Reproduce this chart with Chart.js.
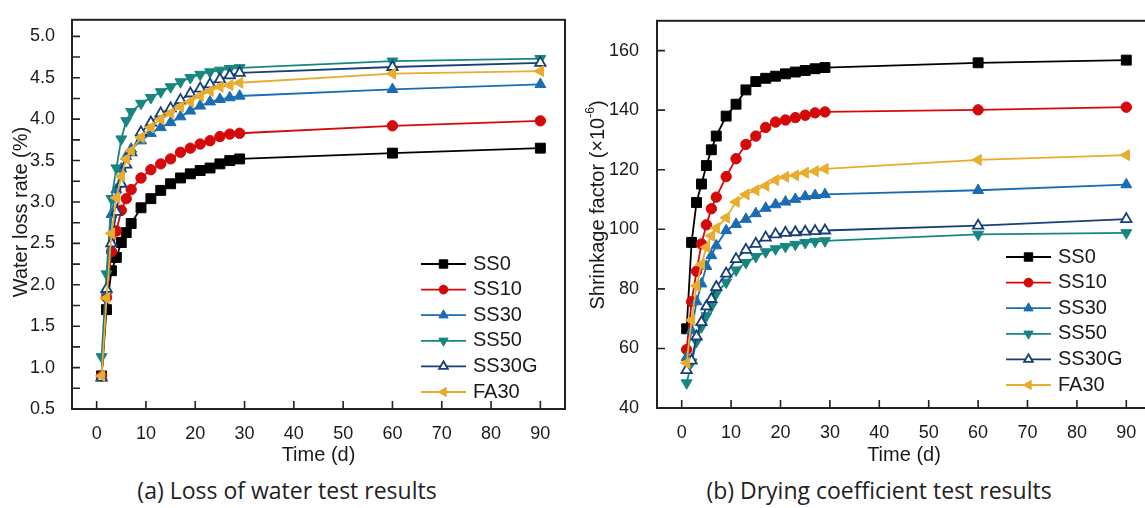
<!DOCTYPE html>
<html>
<head>
<meta charset="utf-8">
<title>Water loss and drying shrinkage</title>
<script src="https://cdn.jsdelivr.net/npm/chart.js@4.4.1/dist/chart.umd.min.js"></script>
<style>
  html, body { margin: 0; padding: 0; background: #fff; overflow: hidden; }
  #wrap { position: relative; width: 1145px; height: 508px; overflow: hidden; }
  .panel { position: absolute; top: 0; }
  #leftBox { left: 0; width: 580px; height: 470px; }
  #rightBox { left: 580px; width: 590px; height: 470px; }
  .cap { position: absolute; top: 475px; font-family: "Open Sans", "Liberation Sans", sans-serif;
         font-size: 23px; line-height: 30px; color: #222; white-space: nowrap; transform: translateX(-50%); }
</style>
</head>
<body>
<div id="wrap">
  <div class="panel" id="leftBox"><canvas id="lossChart" width="580" height="470"></canvas></div>
  <div class="panel" id="rightBox"><canvas id="shrinkChart" width="590" height="470"></canvas></div>
  <div class="cap" style="left:287px">(a) Loss of water test results</div>
  <div class="cap" style="left:879px">(b) Drying coefficient test results</div>
</div>
<script>
// Curing age of each measurement (days)
const days = [1, 2, 3, 4, 5, 6, 7, 9, 11, 13, 15, 17, 19, 21, 23, 25, 27, 29, 60, 90];
const seriesNames = ['SS0', 'SS10', 'SS30', 'SS50', 'SS30G', 'FA30'];

// Water loss rate (%)
const lossSS0   = [0.90, 1.70, 2.17, 2.33, 2.51, 2.63, 2.74, 2.93, 3.04, 3.14, 3.22, 3.29, 3.34, 3.38, 3.41, 3.46, 3.50, 3.52, 3.59, 3.65];
const lossSS10  = [0.90, 1.85, 2.40, 2.65, 2.90, 3.04, 3.15, 3.29, 3.39, 3.46, 3.52, 3.60, 3.65, 3.70, 3.74, 3.79, 3.82, 3.83, 3.92, 3.98];
const lossSS30  = [0.90, 1.93, 2.85, 3.15, 3.40, 3.55, 3.64, 3.74, 3.83, 3.90, 3.96, 4.03, 4.10, 4.16, 4.21, 4.24, 4.26, 4.28, 4.36, 4.42];
const lossSS50  = [1.13, 2.13, 3.04, 3.41, 3.76, 3.98, 4.09, 4.19, 4.26, 4.33, 4.39, 4.45, 4.50, 4.54, 4.57, 4.59, 4.61, 4.62, 4.70, 4.73];
const lossSS30G = [0.88, 1.95, 2.50, 2.88, 3.22, 3.45, 3.60, 3.84, 3.96, 4.07, 4.13, 4.23, 4.31, 4.37, 4.42, 4.48, 4.53, 4.56, 4.63, 4.68];
const lossFA30  = [0.90, 1.84, 2.62, 3.05, 3.31, 3.52, 3.62, 3.78, 3.90, 4.00, 4.07, 4.15, 4.21, 4.28, 4.34, 4.39, 4.41, 4.44, 4.55, 4.58];

// Drying shrinkage (×10^-6)
const shrinkSS0   = [66.6, 95.6, 109.0, 115.2, 121.4, 126.7, 131.3, 138.0, 142.0, 146.8, 149.6, 150.7, 151.4, 152.2, 152.8, 153.3, 153.9, 154.3, 155.9, 156.8];
const shrinkSS10  = [59.6, 75.7, 85.9, 95.1, 101.5, 106.9, 110.8, 117.7, 123.7, 128.5, 131.3, 134.2, 136.0, 136.7, 137.5, 138.3, 139.1, 139.4, 140.1, 141.0];
const shrinkSS30  = [57.0, 66.0, 75.7, 81.7, 87.6, 91.2, 94.5, 99.6, 101.7, 103.4, 105.3, 107.1, 108.3, 109.2, 110.1, 111.0, 111.4, 111.7, 113.1, 115.0];
const shrinkSS50  = [48.4, 55.4, 62.3, 67.2, 70.9, 74.1, 78.4, 82.2, 86.3, 88.8, 90.8, 92.4, 93.4, 94.2, 94.9, 95.5, 95.9, 96.1, 98.3, 98.8];
const shrinkSS30G = [52.7, 55.9, 64.0, 68.8, 74.1, 76.6, 80.6, 85.1, 90.0, 93.1, 95.1, 97.2, 98.3, 98.8, 99.0, 99.2, 99.4, 99.6, 101.2, 103.4];
const shrinkFA30  = [55.1, 69.5, 81.0, 88.2, 94.0, 97.8, 100.4, 103.9, 109.2, 111.7, 113.1, 114.6, 116.5, 117.6, 118.1, 119.0, 119.5, 120.3, 123.3, 124.9];

// Tick labels
const timeTicks = [0, 10, 20, 30, 40, 50, 60, 70, 80, 90];
const lossTicks = [0.5, 1.0, 1.5, 2.0, 2.5, 3.0, 3.5, 4.0, 4.5, 5.0];
const shrinkTicks = [40, 60, 80, 100, 120, 140, 160];

const FONT = '"Liberation Sans", Arial, Helvetica, sans-serif';
const INK = '#1a1a1a';

// Marker and line styling for each mix
const looks = [
  { color: '#000000', pointStyle: 'rect',     radius: 7.0, rotation: 0,   fill: '#000000' },
  { color: '#d40a0a', pointStyle: 'circle',   radius: 5.2, rotation: 0,   fill: '#d40a0a' },
  { color: '#1a6db3', pointStyle: 'triangle', radius: 6.3, rotation: 0,   fill: '#1a6db3' },
  { color: '#16867f', pointStyle: 'triangle', radius: 6.3, rotation: 180, fill: '#16867f' },
  { color: '#173f78', pointStyle: 'triangle', radius: 6.0, rotation: 0,   fill: '#ffffff' },
  { color: '#e8ad2e', pointStyle: 'triangle', radius: 6.3, rotation: 270, fill: '#e8ad2e' }
];

function buildDatasets(seriesList) {
  return seriesList.map((vals, i) => {
    const s = looks[i];
    return {
      label: seriesNames[i],
      data: days.map((d, k) => ({ x: d, y: vals[k] })),
      borderColor: s.color,
      backgroundColor: s.fill,
      borderWidth: 1.8,
      pointStyle: s.pointStyle,
      pointRadius: s.radius,
      pointRotation: s.rotation,
      pointBackgroundColor: s.fill,
      pointBorderColor: s.color,
      pointBorderWidth: i === 4 ? 1.8 : 1,
      tension: 0,
      order: seriesList.length - i,
      clip: false
    };
  });
}

function buildScales(yMin, yMax, yTickVals, yFormat, yAxisWidth, xAxisHeight, yPad) {
  return {
    x: {
      type: 'linear', min: -5, max: 95,
      afterBuildTicks: s => { s.ticks = timeTicks.map(v => ({ value: v })); },
      afterFit: s => { s.height = xAxisHeight; },
      grid: { display: false }, border: { display: false },
      ticks: { font: { family: FONT, size: 18 }, color: INK, padding: 6, maxRotation: 0, autoSkip: false,
               callback: v => String(v) }
    },
    y: {
      type: 'linear', min: yMin, max: yMax,
      afterBuildTicks: s => { s.ticks = yTickVals.map(v => ({ value: v })); },
      afterFit: s => { s.width = yAxisWidth; },
      grid: { display: false }, border: { display: false },
      ticks: { font: { family: FONT, size: 18 }, color: INK, padding: yPad, autoSkip: false, callback: yFormat }
    }
  };
}

// Frame, inward tick marks, axis titles and in-plot legend
const panelDecor = {
  id: 'panelDecor',
  afterDraw(chart, args, o) {
    const { ctx, chartArea: a, scales: { x, y } } = chart;
    ctx.save();
    ctx.strokeStyle = '#222';
    ctx.lineWidth = 2;
    ctx.strokeRect(a.left, a.top, a.right - a.left, a.bottom - a.top);

    ctx.lineWidth = 1.6;
    ctx.beginPath();
    x.ticks.forEach(t => {
      const p = x.getPixelForValue(t.value);
      ctx.moveTo(p, a.bottom); ctx.lineTo(p, a.bottom - o.tickLen);
    });
    const yVals = y.ticks.map(t => t.value);
    if (o.minorTicks) {
      yVals.slice(1).forEach((v, i) => yVals.push((v + y.ticks[i].value) / 2));
    }
    yVals.forEach(v => {
      const p = y.getPixelForValue(v);
      ctx.moveTo(a.left, p); ctx.lineTo(a.left + o.tickLen, p);
    });
    ctx.stroke();

    // axis titles
    ctx.fillStyle = INK;
    ctx.textBaseline = 'middle';
    ctx.textAlign = 'center';
    ctx.font = `${o.titleSize}px ${FONT}`;
    ctx.fillText(o.xTitle, (a.left + a.right) / 2, o.xTitleY);

    ctx.save();
    ctx.translate(o.yTitleX, o.yTitleY);
    ctx.rotate(-Math.PI / 2);
    const parts = o.yTitle;
    const widths = parts.map(p => {
      ctx.font = `${p.sup ? Math.round(o.titleSize * 0.62) : o.titleSize}px ${FONT}`;
      return ctx.measureText(p.t).width;
    });
    let cx = -widths.reduce((s, w) => s + w, 0) / 2;
    ctx.textAlign = 'left';
    parts.forEach((p, i) => {
      ctx.font = `${p.sup ? Math.round(o.titleSize * 0.62) : o.titleSize}px ${FONT}`;
      ctx.fillText(p.t, cx, p.sup ? -o.titleSize * 0.38 : 0);
      cx += widths[i];
    });
    ctx.restore();

    // legend
    ctx.font = `${o.legendSize}px ${FONT}`;
    ctx.textAlign = 'left';
    chart.data.datasets.forEach((ds, i) => {
      const ly = o.legendY + i * o.legendGap;
      ctx.strokeStyle = ds.borderColor;
      ctx.lineWidth = 1.8;
      ctx.beginPath();
      ctx.moveTo(o.legendX, ly); ctx.lineTo(o.legendX + o.legendLine, ly);
      ctx.stroke();
      ctx.fillStyle = ds.pointBackgroundColor;
      ctx.strokeStyle = ds.pointBorderColor;
      ctx.lineWidth = ds.pointBorderWidth;
      Chart.helpers.drawPoint(ctx, {
        pointStyle: ds.pointStyle, radius: ds.pointRadius * 0.85,
        rotation: ds.pointRotation, borderWidth: ds.pointBorderWidth
      }, o.legendX + o.legendLine / 2, ly);
      ctx.fillStyle = INK;
      ctx.fillText(ds.label, o.legendX + o.legendLine + 7, ly);
    });
    ctx.restore();
  }
};

function makeChart(id, seriesList, scales, padding, decor) {
  return new Chart(document.getElementById(id), {
    type: 'line',
    data: { datasets: buildDatasets(seriesList) },
    options: {
      responsive: false,
      animation: false,
      devicePixelRatio: 1,
      layout: { padding },
      plugins: { legend: { display: false }, tooltip: { enabled: false }, panelDecor: decor },
      scales
    },
    plugins: [panelDecor]
  });
}

makeChart('lossChart',
  [lossSS0, lossSS10, lossSS30, lossSS50, lossSS30G, lossFA30],
  buildScales(0.5, 5.2, lossTicks, v => v.toFixed(1), 72, 61, 9),
  { top: 9, left: 0, right: 15, bottom: 0 },
  { tickLen: 8, minorTicks: true, titleSize: 20, xTitle: 'Time (d)', xTitleY: 455,
    yTitle: [{ t: 'Water loss rate (%)' }], yTitleX: 21, yTitleY: 212,
    legendSize: 20, legendX: 421, legendY: 264, legendGap: 25.6, legendLine: 45 });

makeChart('shrinkChart',
  [shrinkSS0, shrinkSS10, shrinkSS30, shrinkSS50, shrinkSS30G, shrinkFA30],
  buildScales(40, 170, shrinkTicks, v => String(v), 77, 62, 10),
  { top: 4, left: 0, right: 19, bottom: 0 },
  { tickLen: 8, minorTicks: false, titleSize: 20, xTitle: 'Time (d)', xTitleY: 455,
    yTitle: [{ t: 'Shrinkage factor (×10' }, { t: '-6', sup: true }, { t: ')' }], yTitleX: 18, yTitleY: 205,
    legendSize: 20, legendX: 426, legendY: 257, legendGap: 25.6, legendLine: 45 });
</script>
</body>
</html>
